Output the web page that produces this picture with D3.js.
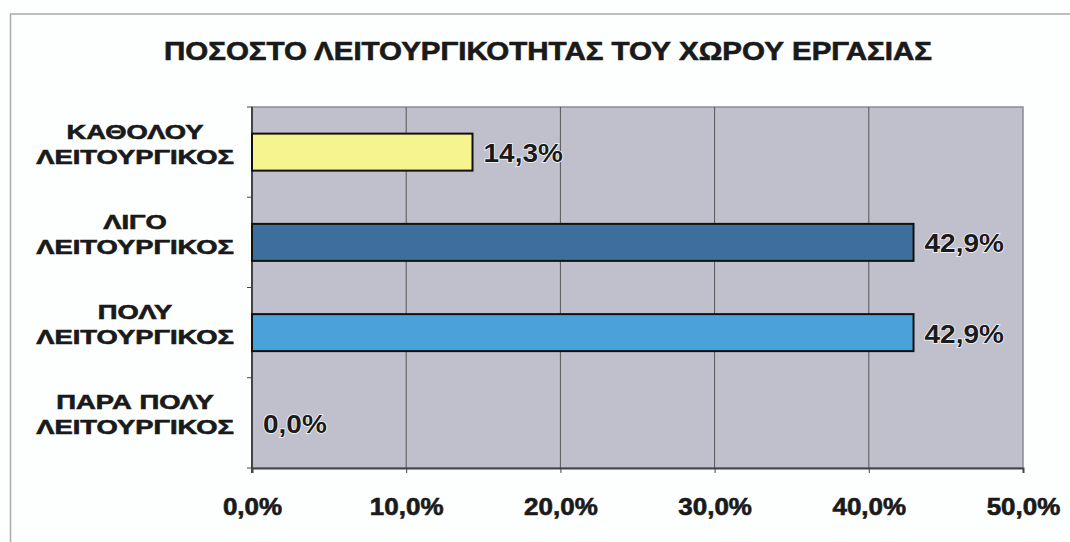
<!DOCTYPE html>
<html>
<head>
<meta charset="utf-8">
<script src="https://cdn.jsdelivr.net/npm/d3@7"></script>
<style>
  body { margin: 0; background: #fdfefe; }
  text { font-family: "Liberation Sans", Arial, sans-serif; font-weight: bold; fill: #1a1a1a; }
  .heavy { stroke: #1a1a1a; stroke-width: 0.6px; }
</style>
</head>
<body>
<script>
// chart data
var categories = [
  ["ΚΑΘΟΛΟΥ", "ΛΕΙΤΟΥΡΓΙΚΟΣ"],
  ["ΛΙΓΟ", "ΛΕΙΤΟΥΡΓΙΚΟΣ"],
  ["ΠΟΛΥ", "ΛΕΙΤΟΥΡΓΙΚΟΣ"],
  ["ΠΑΡΑ ΠΟΛΥ", "ΛΕΙΤΟΥΡΓΙΚΟΣ"]
];
var values = [14.3, 42.9, 42.9, 0.0];
var barColors = ["#f6f48e", "#3e6f9c", "#4aa2db", "#9999cc"];
var ticks = [0, 10, 20, 30, 40, 50];
var title = "ΠΟΣΟΣΤΟ ΛΕΙΤΟΥΡΓΙΚΟΤΗΤΑΣ ΤΟΥ ΧΩΡΟΥ ΕΡΓΑΣΙΑΣ";

var width = 1070, height = 542;
var plot = { left: 252, right: 1023, top: 107, bottom: 468 };

var svg = d3.select("body").append("svg")
  .attr("width", width).attr("height", height);

var fmt = function(v) { return v.toFixed(1).replace(".", ",") + "%"; };

var x = d3.scaleLinear().domain([0, 50]).range([plot.left, plot.right]);
var y = d3.scaleBand().domain(d3.range(categories.length))
  .range([plot.top, plot.bottom]).paddingInner(0.59).paddingOuter(0.295);

// frame lines of the scanned chart
svg.append("line").attr("x1", 10).attr("x2", width).attr("y1", 14).attr("y2", 14)
  .attr("stroke", "#aaa").attr("stroke-width", 1.5);
svg.append("line").attr("x1", 10.5).attr("x2", 10.5).attr("y1", 14).attr("y2", height)
  .attr("stroke", "#aaa").attr("stroke-width", 1.5);

// title (the scan is stretched sideways, so the text is too)
svg.append("text")
  .attr("class", "heavy")
  .attr("transform", "translate(548,60) scale(1.18,1)")
  .attr("text-anchor", "middle")
  .style("font-size", "25px")
  .text(title);

// plot area
svg.append("rect")
  .attr("x", plot.left).attr("y", plot.top)
  .attr("width", plot.right - plot.left).attr("height", plot.bottom - plot.top)
  .attr("fill", "#bfc0cb").attr("stroke", "#8a8a92").attr("stroke-width", 1.5);

// gridlines
svg.append("g").selectAll("line")
  .data(ticks.slice(1, -1))
  .join("line")
  .attr("x1", function(d) { return x(d); }).attr("x2", function(d) { return x(d); })
  .attr("y1", plot.top).attr("y2", plot.bottom)
  .attr("stroke", "#555").attr("stroke-width", 1);

// x axis
var xAxis = svg.append("g")
  .attr("transform", "translate(0," + plot.bottom + ")")
  .call(d3.axisBottom(x).tickValues(ticks).tickSize(5).tickPadding(26).tickFormat(fmt));
xAxis.select(".domain").attr("stroke", "#444").attr("stroke-width", 2);
xAxis.selectAll(".tick line").attr("stroke", "#444");
xAxis.selectAll("text")
  .attr("class", "heavy")
  .style("font-size", "23px")
  .attr("transform", "scale(1.13,1)")
  .attr("fill", "#1a1a1a").attr("font-family", null);

// y axis line and ticks at band boundaries
var yAxis = svg.append("g");
yAxis.append("line")
  .attr("x1", plot.left).attr("x2", plot.left)
  .attr("y1", plot.top).attr("y2", plot.bottom + 5)
  .attr("stroke", "#444").attr("stroke-width", 2);
yAxis.selectAll(".bt")
  .data(d3.range(categories.length + 1))
  .join("line")
  .attr("class", "bt")
  .attr("x1", plot.left - 5).attr("x2", plot.left)
  .attr("y1", function(d) { return plot.top + d * y.step(); })
  .attr("y2", function(d) { return plot.top + d * y.step(); })
  .attr("stroke", "#444");

// category labels
var catG = svg.append("g").selectAll("text")
  .data(categories)
  .join("text")
  .attr("class", "heavy")
  .attr("text-anchor", "middle")
  .style("font-size", "20px")
  .attr("transform", function(d, i) {
    return "translate(135," + (y(i) + y.bandwidth() / 2) + ") scale(1.37,1)";
  });
catG.selectAll("tspan")
  .data(function(d) { return d; })
  .join("tspan")
  .attr("x", 0)
  .attr("y", function(d, j) { return j === 0 ? -13.5 : 11.5; })
  .text(function(d) { return d; });

// bars
svg.append("g").selectAll("rect")
  .data(values)
  .join("rect")
  .attr("x", x(0))
  .attr("y", function(d, i) { return y(i); })
  .attr("width", function(d) { return x(d) - x(0); })
  .attr("height", y.bandwidth())
  .attr("fill", function(d, i) { return barColors[i]; })
  .attr("stroke", function(d) { return d > 0 ? "#111" : "none"; })
  .attr("stroke-width", 2);

// value labels
svg.append("g").selectAll("text")
  .data(values)
  .join("text")
  .attr("transform", function(d, i) {
    return "translate(" + (x(d) + 11) + "," + (y(i) + y.bandwidth() / 2 + 10) + ") scale(1.12,1)";
  })
  .style("font-size", "25px")
  .attr("fill", "#222")
  .style("paint-order", "stroke")
  .attr("stroke", "#f4f6fa").attr("stroke-width", 1.5)
  .text(fmt);
</script>
</body>
</html>
